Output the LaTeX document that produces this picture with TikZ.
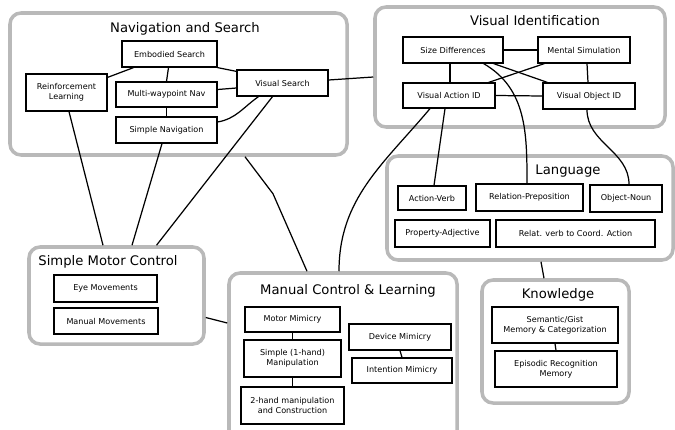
\documentclass[tikz,border=0pt]{standalone}
\usepackage{fontspec}
\setmainfont{DejaVu Sans}
\usepackage{xcolor}
\usepackage{tikz}
\usetikzlibrary{calc}

\begin{document}
\begin{tikzpicture}[
    x=0.2mm, y=-0.2mm,
    kotak/.style={draw, fill=white, line width=0.7pt, inner sep=1pt, align=center,
                  minimum height=5.2mm, font=\fontsize{4.6}{5.8}\selectfont},
    grup/.style={draw=gray!55, line width=2pt, rounded corners=2.2mm, fill=white},
    judul/.style={font=\fontsize{7.5}{9}\selectfont},
    garis/.style={line width=0.7pt}
  ]
    \clip (0,0) rectangle (675,429);

    \node[grup, minimum width=67.4mm, minimum height=28.4mm] (nav) at (178.5,84) {};
    \node[grup, minimum width=58mm, minimum height=24mm] (visid) at (520,67) {};
    \node[grup, minimum width=57.2mm, minimum height=20.8mm] (lang) at (530,208) {};
    \node[grup, minimum width=35mm, minimum height=19.4mm] (motor) at (116.5,295.5) {};
    \node[grup, minimum width=45.6mm, minimum height=34.4mm] (manual) at (343,359) {};
    \node[grup, minimum width=29.4mm, minimum height=24.6mm] (know) at (555.5,341.5) {};

    \node[judul] (tnav) at (185,29) {Navigation and Search};
    \node[judul] (tvisid) at (535,21) {Visual Identification};
    \node[judul] (tlang) at (568,171) {Language};
    \node[judul] (tmotor) at (108,262) {Simple Motor Control};
    \node[judul] (tmanual) at (348,291) {Manual Control \& Learning};
    \node[judul] (tknow) at (558,295) {Knowledge};

    \node[kotak, minimum width=19mm] (emb) at (169.5,54) {Embodied Search};
    \node[kotak, minimum width=16.2mm, minimum height=7.4mm] (rl) at (66.5,92.5) {Reinforcement\\Learning};
    \node[kotak, minimum width=20.2mm, minimum height=5mm] (multi) at (166.5,94.5) {Multi-waypoint Nav};
    \node[kotak, minimum width=20.2mm] (simnav) at (166.5,130) {Simple Navigation};
    \node[kotak, minimum width=18.2mm] (vs) at (282.5,83) {Visual Search};
    \node[kotak, minimum width=20mm] (size) at (453,50) {Size Differences};
    \node[kotak, minimum width=18.4mm] (mental) at (584,50) {Mental Simulation};
    \node[kotak, minimum width=18.4mm, minimum height=5mm] (vaid) at (449,95.5) {Visual Action ID};
    \node[kotak, minimum width=18.4mm] (void) at (589,96) {Visual Object ID};
    \node[kotak, minimum width=13.6mm, minimum height=4.8mm] (verb) at (432,198) {Action-Verb};
    \node[kotak, minimum width=21.4mm, minimum height=5.4mm] (prep) at (529.5,197.5) {Relation-Preposition};
    \node[kotak, minimum width=14.4mm, minimum height=5.4mm] (noun) at (626,198.5) {Object-Noun};
    \node[kotak, minimum width=19mm, minimum height=5.4mm] (adj) at (442.5,233.5) {Property-Adjective};
    \node[kotak, minimum width=31.8mm, minimum height=5.4mm] (relat) at (575.5,233.5) {Relat. verb to Coord. Action};
    \node[kotak, minimum width=20.6mm, minimum height=5.4mm] (eye) at (105.5,288.5) {Eye Movements};
    \node[kotak, minimum width=20.8mm] (manmov) at (106,321) {Manual Movements};
    \node[kotak, minimum width=19mm, minimum height=5mm] (motmim) at (292.5,319.5) {Motor Mimicry};
    \node[kotak, minimum width=19.4mm, minimum height=7.4mm] (simple) at (292.5,358.5) {Simple (1-hand)\\Manipulation};
    \node[kotak, minimum width=20.6mm, minimum height=7.4mm] (twohand) at (292.5,405.5) {2-hand manipulation\\and Construction};
    \node[kotak, minimum width=20.4mm] (devmim) at (400,337) {Device Mimicry};
    \node[kotak, minimum width=20mm, minimum height=5mm] (intmim) at (402,370.5) {Intention Mimicry};
    \node[kotak, minimum width=25.2mm, minimum height=7.2mm] (sem) at (555,325) {Semantic/Gist\\Memory \& Categorization};
    \node[kotak, minimum width=24.4mm, minimum height=7.2mm] (epi) at (556,369) {Episodic Recognition\\Memory};

    \draw[garis] ($(emb.south)+(-36,0)$) -- ($(rl.north east)+(0,4)$);
    \draw[garis] ($(emb.south)+(-1,0)$) -- (multi.north);
    \draw[garis] (emb.south east) -- ($(vs.north west)+(0,2)$);
    \draw[garis] ($(multi.east)+(0,-5)$) -- ($(vs.west)+(0,5)$);
    \draw[garis] (multi.south) -- (simnav.north);
    \draw[garis] ($(simnav.east)+(0,-8)$) to[out=10,in=-145] ($(vs.south)+(-24,0)$);
    \draw[garis] ($(vs.east)+(0,-3)$) -- ($(visid.west)+(0,10)$);
    \draw[garis] ($(vs.south)+(-10,0)$) -- ($(motor.north)+(40,0)$);
    \draw[garis] ($(rl.south)+(2.5,0)$) -- ($(motor.north)+(-13.5,0)$);
    \draw[garis] ($(simnav.south)+(-4.5,0)$) -- ($(motor.north)+(15.5,0)$);
    \draw[garis] ($(nav.south)+(66.5,0)$) -- ++(28,37) -- ($(manual.north)+(-36,0)$);
    \draw[garis] ($(vaid.south)+(-19,0)$) to[out=-130,in=90] ($(manual.north)+(-4,0)$);
    \draw[garis] ($(vaid.south)+(-4,0)$) -- ($(verb.north)+(2,0)$);
    \draw[garis] ($(size.south)+(-3,0)$) -- ($(vaid.north)+(1,0)$);
    \draw[garis] (size.east) -- (mental.west);
    \draw[garis] ($(mental.south west)+(7,0)$) -- ($(vaid.north east)+(-7,0)$);
    \draw[garis] ($(size.south east)+(-10,0)$) -- ($(void.north west)+(5,0)$);
    \draw[garis] ($(mental.south)+(3,0)$) -- ($(void.north)+(-1,0)$);
    \draw[garis] (vaid.east) -- (void.west);
    \draw[garis] ($(size.south east)+(-20,0)$) to[out=-30,in=90] ($(prep.north)+(-2.5,0)$);
    \draw[garis] ($(void.south)+(-2,0)$) to[out=-90,in=90] ($(noun.north)+(3,0)$);
    \draw[garis] ($(lang.south)+(11,0)$) -- ($(know.north)+(-11.5,0)$);
    \draw[garis] ($(motor.east)+(0,22)$) -- ($(manual.west)+(0,-36)$);
    \draw[garis] (motmim.south) -- (simple.north);
    \draw[garis] (simple.south) -- (twohand.north);
    \draw[garis] (devmim.south) -- (intmim.north);
    \draw[garis] (sem.south) -- (epi.north);
\end{tikzpicture}
\end{document}
